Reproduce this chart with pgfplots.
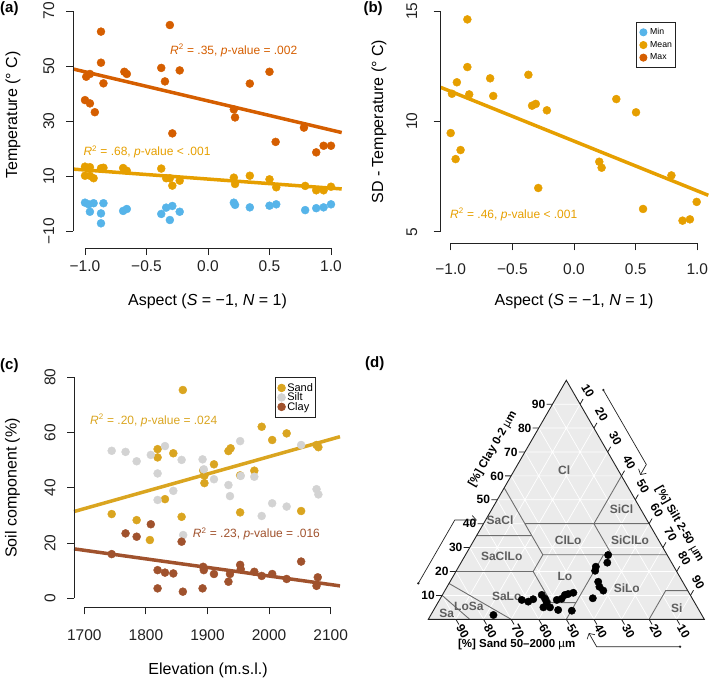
\documentclass[border=0pt]{standalone}
\usepackage{fontspec}
\setmainfont{Liberation Sans}
\usepackage{pgfplots}
\pgfplotsset{compat=1.18}
\usetikzlibrary{arrows.meta}
\definecolor{minc}{HTML}{56B4E9}
\definecolor{meanc}{HTML}{E69F00}
\definecolor{maxc}{HTML}{D55E00}
\definecolor{sandc}{HTML}{DAA520}
\definecolor{siltc}{HTML}{D3D3D3}
\definecolor{clayc}{HTML}{A0522D}
\definecolor{tfill}{HTML}{EBEBEB}
\definecolor{bdry}{HTML}{6E6E6E}
\definecolor{clab}{HTML}{5E5E5E}
\definecolor{axc}{HTML}{222222}
\pgfplotsset{
  rax/.style={
    scale only axis, anchor=south west, clip=false,
    axis line style={draw=none},
    tick align=outside, major tick length=7pt,
    tick style={line width=0.9pt, axc},
    xtick pos=left, ytick pos=left,
    tick label style={font=\fontsize{15.5}{18}\selectfont, text=axc},
    yticklabel style={rotate=90, anchor=south},
    legend image code/.code={\fill (0pt,0pt) circle (3.6pt);},
    legend cell align=left,
  },
  pts/.style={only marks, mark=*, mark size=4pt},
  reg/.style={line width=3.5pt, forget plot},
}
\begin{document}
\begin{tikzpicture}
\useasboundingbox (0,0) rectangle (709pt,-682pt);
% ---------------- (a)
\begin{axis}[rax, at={(73.3pt,-248pt)}, width=268.4pt, height=243pt,
  xmin=-1.0951, xmax=1.0870, ymin=-16.18, ymax=72.18,
  xtick={-1,-0.5,0,0.5,1}, xticklabels={−1.0,−0.5,0.0,0.5,1.0},
  ytick={-10,10,30,50,70}, yticklabels={−10,10,30,50,70},
  xticklabel style={yshift=-2pt}, yticklabel style={yshift=8.5pt},
  xlabel={Aspect (\textit{S} = −1, \textit{N} = 1)},
  ylabel={Temperature (° C)},
  every axis x label/.style={at={(axis description cs:0.5,0)}, anchor=center, yshift=-53pt, font=\fontsize{16}{19}\selectfont},
  every axis y label/.style={at={(axis description cs:-0.2247,0.5473)}, anchor=center, rotate=90, font=\fontsize{16}{19}\selectfont},
]
\addplot[pts, minc] table[row sep=\\]{x y\\
-1.00 0.3\\ -0.97 -0.3\\ -0.93 0.1\\ -0.85 0.1\\ -0.96 -3.0\\ -0.87 -3.6\\ -0.87 -7.2\\ -0.69 -2.7\\ -0.66 -2.0\\ -0.38 -3.8\\ -0.34 -1.5\\ -0.29 -0.9\\ -0.31 -6.0\\ -0.23 -3.0\\ 0.21 0.3\\ 0.22 -0.5\\ 0.34 -1.4\\ 0.50 -0.8\\ 0.555 -0.3\\ 0.79 -2.4\\ 0.88 -1.7\\ 0.94 -1.4\\ 1.00 -0.3\\
};
\addplot[pts, meanc] table[row sep=\\]{x y\\
-1.00 13.4\\ -0.96 13.2\\ -1.00 10.1\\ -0.96 10.1\\ -0.93 9.2\\ -0.87 12.8\\ -0.85 13.0\\ -0.69 12.9\\ -0.66 11.9\\ -0.38 12.7\\ -0.34 9.2\\ -0.31 9.2\\ -0.29 6.5\\ -0.23 8.3\\ 0.21 9.4\\ 0.22 7.1\\ 0.34 10.1\\ 0.50 8.8\\ 0.555 5.9\\ 0.79 6.4\\ 0.88 4.8\\ 0.94 4.8\\ 1.00 6.1\\
};
\addplot[pts, maxc] table[row sep=\\]{x y\\
-0.99 46.1\\ -0.96 47.1\\ -1.00 37.6\\ -0.96 36.4\\ -0.92 33.2\\ -0.87 62.5\\ -0.87 51.2\\ -0.85 43.7\\ -0.68 47.9\\ -0.66 47.1\\ -0.38 49.3\\ -0.35 44.4\\ -0.31 64.9\\ -0.29 25.5\\ -0.23 48.4\\ 0.21 34.2\\ 0.22 31.3\\ 0.34 43.6\\ 0.50 47.9\\ 0.55 22.4\\ 0.78 27.6\\ 0.88 18.6\\ 0.94 21.0\\ 1.00 21.0\\
};
\addplot[reg, maxc] coordinates {(-1.0951,48.9) (1.0870,25.8)};
\addplot[reg, meanc] coordinates {(-1.0951,12.5) (1.0870,5.3)};
\draw[axc, line width=0.9pt] (-1,-16.18) -- (1,-16.18);
\draw[axc, line width=0.9pt] (-1.0951,-10) -- (-1.0951,70);
\end{axis}
% ---------------- (b)
\begin{axis}[rax, at={(440.7pt,-243.3pt)}, width=267.6pt, height=238.3pt,
  xmin=-1.0811, xmax=1.0892, ymin=4.474, ymax=15.272,
  xtick={-1,-0.5,0,0.5,1}, xticklabels={−1.0,−0.5,0.0,0.5,1.0},
  ytick={5,10,15}, yticklabels={5,10,15},
  xticklabel style={yshift=-9.5pt}, yticklabel style={yshift=13pt},
  xlabel={Aspect (\textit{S} = −1, \textit{N} = 1)},
  ylabel={SD - Temperature (° C)},
  every axis x label/.style={at={(axis description cs:0.498,0)}, anchor=center, yshift=-57.7pt, font=\fontsize{16}{19}\selectfont},
  every axis y label/.style={at={(axis description cs:-0.2306,0.5103)}, anchor=center, rotate=90, font=\fontsize{16}{19}\selectfont},
  legend style={at={(0.7298,0.9299)}, anchor=north west, draw=axc, line width=0.8pt,
    inner xsep=3pt, inner ysep=5.5pt, row sep=3.5pt, column sep=2pt,
    font=\fontsize{8.7}{10}\selectfont, nodes={inner sep=0.8pt}},
]
\addlegendimage{pts, minc}
\addlegendentry{Min}
\addplot[pts, meanc] table[row sep=\\]{x y\\
-0.865 14.62\\ -0.865 12.46\\ -0.95 11.77\\ -0.99 11.25\\ -0.85 11.22\\ -0.68 11.95\\ -0.655 11.15\\ -0.37 12.11\\ -0.34 10.71\\ -0.31 10.79\\ -0.22 10.50\\ -1.00 9.47\\ -0.92 8.70\\ -0.96 8.29\\ -0.29 6.98\\ 0.343 11.01\\ 0.503 10.41\\ 0.205 8.17\\ 0.224 7.90\\ 0.79 7.55\\ 0.56 6.03\\ 0.88 5.50\\ 0.94 5.56\\ 0.995 6.35\\
};
\addlegendentry{Mean}
\addlegendimage{pts, maxc}
\addlegendentry{Max}
\addplot[reg, meanc] coordinates {(-1.0811,11.54) (1.0892,6.65)};
\draw[axc, line width=0.9pt] (-1,4.474) -- (1,4.474);
\draw[axc, line width=0.9pt] (-1.0811,5) -- (-1.0811,15);
\end{axis}
% ---------------- (c)
\begin{axis}[rax, at={(74pt,-607.3pt)}, width=266pt, height=242.3pt,
  xmin=1683.3, xmax=2115.1, ymin=-3.258, ymax=84.45,
  xtick={1700,1800,1900,2000,2100}, xticklabels={1700,1800,1900,2000,2100},
  ytick={0,20,40,60,80}, yticklabels={0,20,40,60,80},
  xticklabel style={yshift=-12pt}, yticklabel style={yshift=8pt},
  xlabel={Elevation (m.s.l.)},
  ylabel={Soil component (\%)},
  every axis x label/.style={at={(axis description cs:0.504,0)}, anchor=center, yshift=-62.7pt, font=\fontsize{16}{19}\selectfont},
  every axis y label/.style={at={(axis description cs:-0.2312,0.4924)}, anchor=center, rotate=90, font=\fontsize{16}{19}\selectfont},
  legend image code/.code={\fill (0pt,0pt) circle (3.8pt);},
  legend style={at={(0.7556,0.9492)}, anchor=north west, draw=axc, line width=0.8pt,
    inner xsep=2pt, inner ysep=5pt, row sep=-1pt, column sep=1pt,
    font=\fontsize{11}{12}\selectfont, nodes={inner sep=0.5pt}},
]
\addplot[pts, sandc] table[row sep=\\]{x y\\
1860 75.4\\ 1819 54.0\\ 1819 51.0\\ 1844.5 52.5\\ 1893 46.3\\ 1895 44.4\\ 1895 41.7\\ 1831 35.9\\ 1744.5 30.5\\ 1785 28.3\\ 1806.5 21.1\\ 1858 29.5\\ 1910.5 48.5\\ 1934 53.3\\ 1937.5 54.3\\ 1988 62.1\\ 2005 57.3\\ 2028.5 59.7\\ 1953 44.5\\ 1976 46.2\\ 2077 55.5\\ 2080 54.7\\ 1953 31.1\\ 2052 31.6\\
};
\addlegendentry{Sand}
\addplot[pts, siltc] table[row sep=\\]{x y\\
1744.5 53.4\\ 1767 53.0\\ 1785 49.6\\ 1808 51.9\\ 1831 55.1\\ 1819 45.2\\ 1858 50.1\\ 1892 50.3\\ 1819 35.6\\ 1844.5 38.9\\ 1860.5 22.9\\ 1894 46.7\\ 1910.5 43.1\\ 1953 56.9\\ 1976 44.0\\ 1954 44.3\\ 1934 41.0\\ 1936.5 37.0\\ 1988 29.8\\ 2005 34.4\\ 2028.5 33.2\\ 2052 55.5\\ 2077 39.5\\ 2080 37.6\\
};
\addlegendentry{Silt}
\addplot[pts, clayc] table[row sep=\\]{x y\\
1744.5 16.0\\ 1767 23.5\\ 1785 22.3\\ 1808 26.8\\ 1858 20.5\\ 1819 10.2\\ 1831 9.3\\ 1844.5 9.0\\ 1819 3.6\\ 1860 2.4\\ 1892 3.6\\ 1893 11.4\\ 1894 10.2\\ 1910.5 8.8\\ 1934 6.0\\ 1936.5 8.8\\ 1953 12.1\\ 1954 10.5\\ 1976 9.6\\ 1988 8.1\\ 2005 8.8\\ 2028.5 7.0\\ 2052 13.3\\ 2079 7.6\\ 2077 4.5\\
};
\addlegendentry{Clay}
\addplot[reg, sandc] coordinates {(1683.3,31.4) (2115.1,58.5)};
\addplot[reg, clayc] coordinates {(1683.3,17.9) (2115.1,4.5)};
\draw[axc, line width=0.9pt] (1700,-3.258) -- (2100,-3.258);
\draw[axc, line width=0.9pt] (1683.3,0) -- (1683.3,80);
\end{axis}
% ---------------- (d)
\begin{axis}[at={(428.3pt,-619.3pt)}, anchor=south west, scale only axis,
  width=276pt, height=239.02pt, xmin=0, xmax=100, ymin=0, ymax=86.6025,
  axis lines=none, clip=false]
\fill[tfill] (0,0) -- (100,0) -- (50,86.6025) -- cycle;
\draw[white, line width=0.7pt]
 (5,8.660)--(95,8.660) (10,17.321)--(90,17.321) (15,25.981)--(85,25.981) (20,34.641)--(80,34.641) (25,43.301)--(75,43.301) (30,51.962)--(70,51.962) (35,60.622)--(65,60.622) (40,69.282)--(60,69.282) (45,77.942)--(55,77.942)
 (90,0)--(45,77.942) (80,0)--(40,69.282) (70,0)--(35,60.622) (60,0)--(30,51.962) (50,0)--(25,43.301) (40,0)--(20,34.641) (30,0)--(15,25.981) (20,0)--(10,17.321) (10,0)--(5,8.660)
 (10,0)--(55,77.942) (20,0)--(60,69.282) (30,0)--(65,60.622) (40,0)--(70,51.962) (50,0)--(75,43.301) (60,0)--(80,34.641) (70,0)--(85,25.981) (80,0)--(90,17.321) (90,0)--(95,8.660);
\draw[bdry, line width=0.9pt]
 (27.5,47.631)--(41.5,23.383) (35,34.641)--(80,34.641) (17.5,30.311)--(37.5,30.311)
 (41.5,23.383)--(86.5,23.383) (41.5,23.383)--(38,17.321) (10,17.321)--(38,17.321)
 (38,17.321)--(44.5,6.062) (44.5,6.062)--(53.5,6.062) (50,0)--(63.5,23.383)
 (66.5,23.383)--(60,34.641) (60,34.641)--(70,51.962) (30,0)--(7.5,12.990)
 (15,0)--(5,8.660) (80,0)--(86,10.392)--(94,10.392);
\draw[axc, line width=0.9pt] (0,0) -- (100,0) -- (50,86.6025) -- cycle;
% ticks
\draw[axc, line width=0.8pt]
 (5,8.660)--(2.83,8.660) (10,17.321)--(7.83,17.321) (15,25.981)--(12.83,25.981) (20,34.641)--(17.83,34.641) (25,43.301)--(22.83,43.301) (30,51.962)--(27.83,51.962) (35,60.622)--(32.83,60.622) (40,69.282)--(37.83,69.282) (45,77.942)--(42.83,77.942)
 (10,0)--(11.09,-1.89) (20,0)--(21.09,-1.89) (30,0)--(31.09,-1.89) (40,0)--(41.09,-1.89) (50,0)--(51.09,-1.89) (60,0)--(61.09,-1.89) (70,0)--(71.09,-1.89) (80,0)--(81.09,-1.89) (90,0)--(91.09,-1.89)
 (55,77.942)--(56.09,79.83) (60,69.282)--(61.09,71.17) (65,60.622)--(66.09,62.51) (70,51.962)--(71.09,53.85) (75,43.301)--(76.09,45.19) (80,34.641)--(81.09,36.53) (85,25.981)--(86.09,27.87) (90,17.321)--(91.09,19.21) (95,8.660)--(96.09,10.55);
\begin{scope}[every node/.style={font=\bfseries\fontsize{12}{14}\selectfont, inner sep=0.5pt}]
\node[anchor=east] at (2.6,8.660) {10};
\node[anchor=east] at (7.6,17.321) {20};
\node[anchor=east] at (12.6,25.981) {30};
\node[anchor=east] at (17.6,34.641) {40};
\node[anchor=east] at (22.6,43.301) {50};
\node[anchor=east] at (27.6,51.962) {60};
\node[anchor=east] at (32.6,60.622) {70};
\node[anchor=east] at (37.6,69.282) {80};
\node[anchor=east] at (42.6,77.942) {90};
\node[rotate=-60] at (12.5,-4.4) {90};
\node[rotate=-60] at (22.5,-4.4) {80};
\node[rotate=-60] at (32.5,-4.4) {70};
\node[rotate=-60] at (42.5,-4.4) {60};
\node[rotate=-60] at (52.5,-4.4) {50};
\node[rotate=-60] at (62.5,-4.4) {40};
\node[rotate=-60] at (72.5,-4.4) {30};
\node[rotate=-60] at (82.5,-4.4) {20};
\node[rotate=-60] at (92.5,-4.4) {10};
\node[rotate=-60] at (57.8,82.79) {10};
\node[rotate=-60] at (62.8,74.13) {20};
\node[rotate=-60] at (67.8,65.47) {30};
\node[rotate=-60] at (72.8,56.81) {40};
\node[rotate=-60] at (77.8,48.15) {50};
\node[rotate=-60] at (82.8,39.49) {60};
\node[rotate=-60] at (87.8,30.83) {70};
\node[rotate=-60] at (92.8,22.17) {80};
\node[rotate=-60] at (97.8,13.51) {90};
\end{scope}
\begin{scope}[every node/.style={font=\bfseries\fontsize{12}{14}\selectfont, text=clab, inner sep=0pt}]
\node at (49.2,54.1) {Cl};
\node at (70.0,40.0) {SiCl};
\node at (26.0,35.8) {SaCl};
\node at (50.7,28.7) {ClLo};
\node at (73.1,28.7) {SiClLo};
\node at (26.6,23.0) {SaClLo};
\node at (49.5,15.6) {Lo};
\node at (71.9,11.4) {SiLo};
\node at (28.4,8.4) {SaLo};
\node at (14.7,4.8) {LoSa};
\node at (6.7,2.2) {Sa};
\node at (90.0,4.0) {Si};
\end{scope}
\begin{scope}[every node/.style={font=\bfseries\fontsize{11.5}{13}\selectfont, inner sep=0pt}]
\node[rotate=60] at (23.4,61.6) {[\%] Clay 0-2 {\mdseries µ}m};
\node[rotate=-60] at (91.0,34.4) {[\%] Silt 2-50 {\mdseries µ}m};
\node at (32.0,-9.2) {[\%] Sand 50–2000 {\mdseries µ}m};
\end{scope}
\draw[axc, line width=0.7pt, -{Straight Barb[length=4pt,width=9pt]}] (-3.62,13.04) -- (9.60,35.98) -- (17.54,35.98);
\draw[axc, line width=0.7pt, -{Straight Barb[length=4pt,width=9pt]}] (63.41,83.08) -- (78.99,56.09) -- (76.8,52.3);
\draw[axc, line width=0.7pt, -{Straight Barb[length=4pt,width=9pt]}] (91.2,-9.93) -- (61.0,-9.93) -- (58.16,-4.98);
\fill[axc] (-3.62,13.04) circle[radius=1.3pt];
\fill[axc] (63.41,83.08) circle[radius=1.3pt];
\fill[axc] (91.2,-9.93) circle[radius=1.3pt];
\addplot[only marks, mark=*, mark size=3.7pt, black] table[row sep=\\, x expr={100-\thisrow{sand}-0.5*\thisrow{clay}}, y expr={0.8660254*\thisrow{clay}}]{sand clay\\
75.5 1.8\\ 62.1 8.1\\ 60.1 7.4\\ 57.8 8.4\\ 53.8 10.2\\ 53.4 8.6\\ 53.6 7.0\\ 55.8 5.0\\ 53.4 5.0\\ 51.0 3.9\\ 49.4 8.1\\ 47.4 8.6\\ 45.4 10.2\\ 44.0 10.6\\ 41.9 11.1\\ 46.2 3.6\\ 36.0 8.8\\ 29.4 20.3\\ 28.3 22.0\\ 23.3 23.7\\ 21.4 26.9\\ 30.6 15.7\\ 31.2 13.6\\ 30.6 12.0\\
};
\end{axis}
% ---------------- annotations and panel labels
\begin{scope}[every node/.style={anchor=base west, inner sep=0pt, font=\fontsize{12}{14}\selectfont}]
\node[text=maxc] at (170pt,-54.3pt) {\textit{R}\textsuperscript{2} = .35, \textit{p}-value = .002};
\node[text=meanc] at (83.3pt,-155.5pt) {\textit{R}\textsuperscript{2} = .68, \textit{p}-value < .001};
\node[text=meanc] at (450pt,-218.3pt) {\textit{R}\textsuperscript{2} = .46, \textit{p}-value < .001};
\node[text=sandc] at (90pt,-424.3pt) {\textit{R}\textsuperscript{2} = .20, \textit{p}-value = .024};
\node[text=clayc] at (192.7pt,-537.7pt) {\textit{R}\textsuperscript{2} = .23, \textit{p}-value = .016};
\end{scope}
\begin{scope}[every node/.style={anchor=base west, inner sep=0pt, font=\bfseries\fontsize{15}{18}\selectfont}]
\node at (0pt,-12.3pt) {(a)};
\node at (363.3pt,-12.3pt) {(b)};
\node at (0pt,-369pt) {(c)};
\node at (365pt,-367.3pt) {(d)};
\end{scope}
\end{tikzpicture}
\end{document}
